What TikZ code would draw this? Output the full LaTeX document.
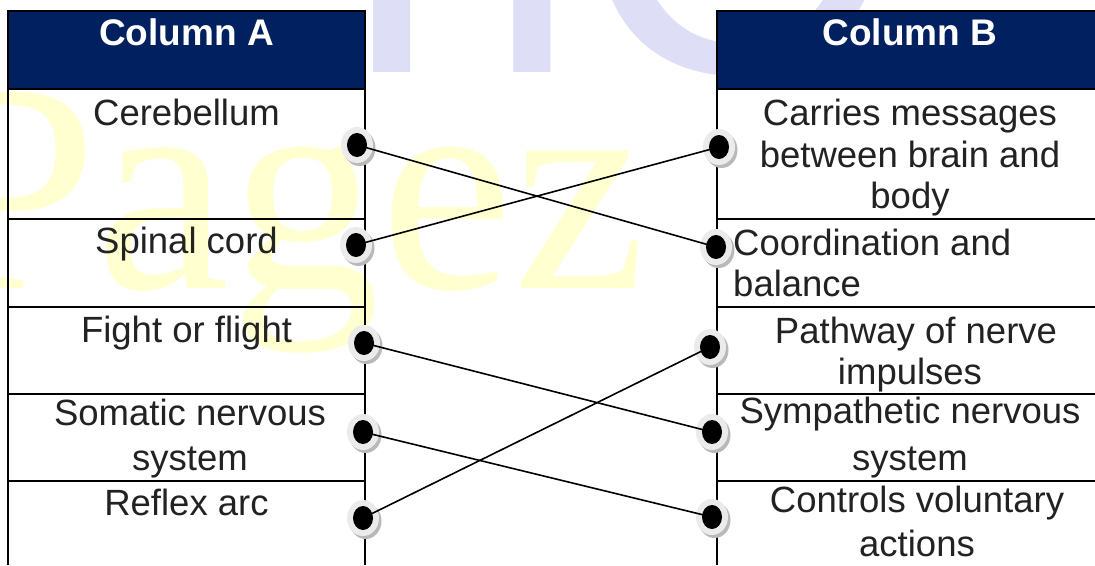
\documentclass[tikz,border=0pt]{standalone}
\usepackage{fontspec}
\setmainfont{Liberation Sans}
\newfontfamily\wmserif{Liberation Serif}
\definecolor{navy}{RGB}{0,32,96}
\definecolor{txt}{RGB}{34,34,34}
\definecolor{wmyellow}{RGB}{255,255,208}
\definecolor{wmlav}{RGB}{222,222,246}
\definecolor{ringc}{RGB}{235,235,235}
\definecolor{shadowc}{RGB}{185,185,185}
\tikzset{
  cell/.style={txt, inner sep=0pt, anchor=base, font=\fontsize{36.5}{41.5}\selectfont},
  cellL/.style={cell, anchor=base west},
  head/.style={white, inner sep=0pt, anchor=base, font=\fontsize{37}{42}\selectfont\bfseries},
  border/.style={black, line width=2pt},
  link/.style={black, line width=1.6pt},
}
\newcommand{\ringat}[1]{%
  \fill[shadowc] ([shift={(2.5,3)}]#1) ellipse (16pt and 18pt);
  \fill[ringc] (#1) ellipse (16pt and 18pt);}
\newcommand{\blackat}[1]{\fill[black] (#1) ellipse (10pt and 12pt);}
\begin{document}
\begin{tikzpicture}[x=1pt,y=-1pt]
\useasboundingbox (0,0) rectangle (1095,565);
\fill[white] (0,0) rectangle (1095,565);
% watermark
\node[wmlav, inner sep=0pt, anchor=base west, font=\fontsize{420}{420}\selectfont] (wm1) at (344,72) {nC};
\node[wmyellow, inner sep=0pt, anchor=base west, font=\wmserif\fontsize{300}{300}\selectfont] (wm2) at (-70,288) {Pagez};
% headers
\fill[navy] (8,11) rectangle (365,89);
\fill[navy] (717,11) rectangle (1105,89);
% borders column A
\draw[border] (8,565) -- (8,11) -- (365,11) -- (365,565);
\foreach \y in {89,219,307,394,481} \draw[border] (8,\y) -- (365,\y);
% borders column B
\draw[border] (717,565) -- (717,11) -- (1105,11);
\foreach \y in {89,219,307,394,481} \draw[border] (717,\y) -- (1105,\y);
% header texts
\node[head] (ha) at (186.5,45) {Column A};
\node[head] (hb) at (910,45) {Column B};
% column A texts
\node[cell] (a1) at (186.5,125) {Cerebellum};
\node[cell] (a2) at (186.5,253) {Spinal cord};
\node[cell] (a3) at (186.5,342) {Fight or flight};
\node[cell] (a4a) at (190,425) {Somatic nervous};
\node[cell] (a4b) at (190,470) {system};
\node[cell] (a5) at (186.5,515) {Reflex arc};
% column B texts
\node[cell] (b1a) at (910,125) {Carries messages};
\node[cell] (b1b) at (910,167) {between brain and};
\node[cell] (b1c) at (910,208) {body};
\node[cellL] (b2a) at (733,255) {Coordination and};
\node[cellL] (b2b) at (733,296) {balance};
\node[cell] (b3a) at (916,343) {Pathway of nerve};
\node[cell] (b3b) at (910,384) {impulses};
\node[cell] (b4a) at (910,423) {Sympathetic nervous};
\node[cell] (b4b) at (910,470) {system};
\node[cell] (b5a) at (917,512) {Controls voluntary};
\node[cell] (b5b) at (917,556) {actions};
% dot positions
\coordinate (l1) at (357,145);
\coordinate (l2) at (356,245);
\coordinate (l3) at (364,343);
\coordinate (l4) at (363,432);
\coordinate (l5) at (363,518);
\coordinate (r1) at (719,147);
\coordinate (r2) at (716,247);
\coordinate (r3) at (710,347);
\coordinate (r4) at (712,432);
\coordinate (r5) at (712,517);
\foreach \p in {l1,l2,l3,l4,l5,r1,r2,r3,r4,r5} {\ringat{\p}}
\draw[link] (l1) -- (r2);
\draw[link] (l2) -- (r1);
\draw[link] (l3) -- (r4);
\draw[link] (l4) -- (r5);
\draw[link] (l5) -- (r3);
\foreach \p in {l1,l2,l3,l4,l5,r1,r2,r3,r4,r5} {\blackat{\p}}
\end{tikzpicture}
\end{document}
